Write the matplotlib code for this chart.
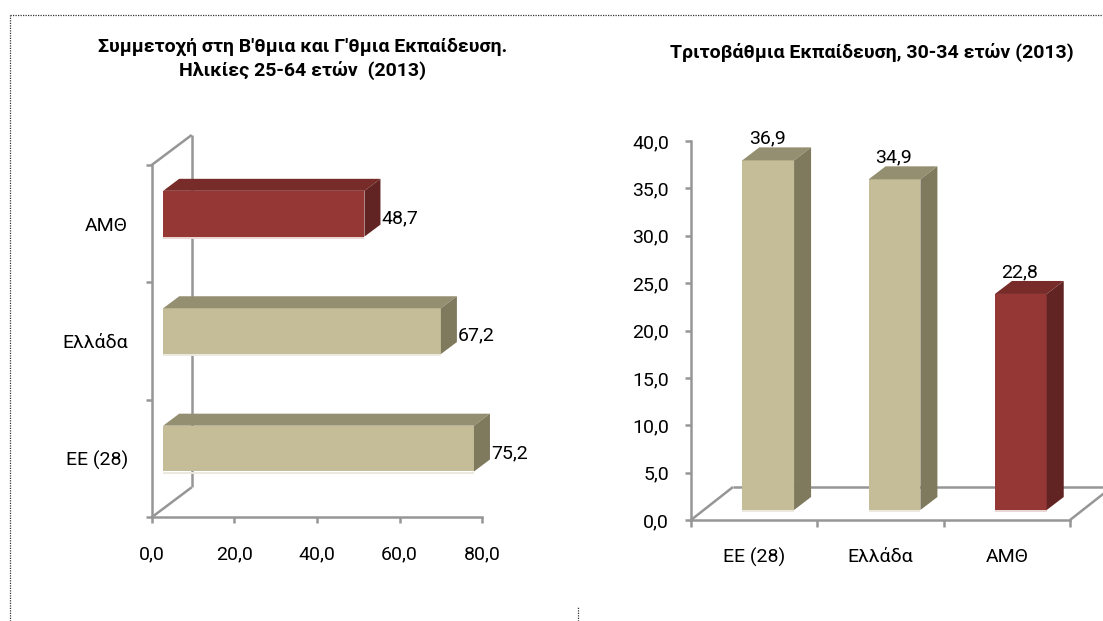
import matplotlib
matplotlib.use('Agg')
import matplotlib.pyplot as plt
from matplotlib.patches import Polygon
from matplotlib.lines import Line2D
from matplotlib.transforms import IdentityTransform, ScaledTranslation
import numpy as np

plt.rcParams['font.family'] = ['Roboto', 'DejaVu Sans']

# ---------------- data ----------------
left_title = "Συμμετοχή στη Β'θμια και Γ'θμια Εκπαίδευση.\nΗλικίες 25-64 ετών  (2013)"
left_categories = ['ΕΕ (28)', 'Ελλάδα', 'ΑΜΘ']
left_values = [75.2, 67.2, 48.7]
left_ticks = [0, 20, 40, 60, 80]

right_title = 'Τριτοβάθμια Εκπαίδευση, 30-34 ετών (2013)'
right_categories = ['ΕΕ (28)', 'Ελλάδα', 'ΑΜΘ']
right_values = [36.9, 34.9, 22.8]
right_ticks = [0, 5, 10, 15, 20, 25, 30, 35, 40]

# ---------------- style ----------------
BEIGE = dict(front='#C4BD97', top='#958F71', side='#7F7A5E', low='#ECEAE0')
RED = dict(front='#953735', top='#772C2A', side='#612422', low='#E9D6D5')
bar_styles = [BEIGE, BEIGE, RED]
GREY = '#969696'
LW = 1.8
FS = 14

W, H = 1103, 621
fig = plt.figure(figsize=(W / 100, H / 100), dpi=100)
fig.patch.set_facecolor('white')


def fmt(v):
    return f'{v:.1f}'.replace('.', ',')


def to_disp(ax, pts, trans=None):
    trans = ax.transData if trans is None else trans
    return trans.transform(np.asarray(pts, dtype=float))


def add_poly(ax, pts, color, z):
    ax.add_patch(Polygon(pts, closed=True, facecolor=color, edgecolor='none',
                         transform=IdentityTransform(), clip_on=False, zorder=z))


def add_line(ax, p, q, z=1, color=GREY, lw=LW):
    ax.add_line(Line2D([p[0], q[0]], [p[1], q[1]], color=color, lw=lw,
                       transform=IdentityTransform(), clip_on=False, zorder=z,
                       solid_capstyle='butt'))


def box3d(ax, x0, x1, y0, y1, off, depth, style):
    A, B, C, D = to_disp(ax, [(x0, y0), (x1, y0), (x1, y1), (x0, y1)]) + np.array(off)
    d = np.array(depth)
    add_poly(ax, [D, C, C + d, D + d], style['top'], 3)
    add_poly(ax, [B, C, C + d, B + d], style['side'], 3)
    add_line(ax, A - np.array([0, 1.2]), B - np.array([0, 1.2]), z=3,
             color=style['low'], lw=1.4)


def style_axis(ax):
    for s in ['top', 'right']:
        ax.spines[s].set_visible(False)
    for s in ['left', 'bottom']:
        ax.spines[s].set_color(GREY)
        ax.spines[s].set_linewidth(LW)
        ax.spines[s].set_zorder(2)
    ax.set_facecolor('none')
    ax.tick_params(which='both', color=GREY, width=LW, labelsize=FS,
                   labelcolor='black')


# ================= left panel (horizontal bars) =================
axL = fig.add_axes([151.7 / W, (H - 517.3) / H, (482.3 - 151.7) / W, (517.3 - 165) / H])
axL.set_xlim(0, 80)
axL.set_ylim(-0.5, 2.5)
style_axis(axL)
yL = np.arange(len(left_categories))
axL.set_xticks(left_ticks)
axL.set_xticklabels([fmt(t) for t in left_ticks])
axL.set_yticks(yL)
axL.set_yticklabels(left_categories)
axL.set_yticks(np.arange(-0.5, len(left_categories)), minor=True)
axL.tick_params(axis='x', which='major', length=4.3, pad=16)
axL.tick_params(axis='y', which='major', length=0, pad=17)
axL.tick_params(axis='y', which='minor', length=4.3)

wall = np.array([40, 30])
p00, p01 = to_disp(axL, [(0, 0), (0, 1)], axL.transAxes)
add_line(axL, p01, p01 + wall)
add_line(axL, p01 + wall, p00 + wall)
add_line(axL, p00 + wall, p00)

offL = (11.5, 10)
depL = (16, 12)
hL = 0.39
cols_L = [BEIGE, BEIGE, RED]
tr = axL.transData + ScaledTranslation(offL[0] / 100, offL[1] / 100, fig.dpi_scale_trans)
for i, v in enumerate(left_values):
    axL.barh(i, v, height=hL, color=cols_L[i]['front'], transform=tr, zorder=3, clip_on=False)
    box3d(axL, 0, v, i - hL / 2, i + hL / 2, offL, depL, cols_L[i])
    axL.annotate(fmt(v), xy=(v, i), xytext=(20.5, 4), textcoords='offset points',
                 ha='left', va='center', fontsize=FS, color='black', zorder=4,
                 annotation_clip=False)

fig.text(303 / W, 1 - 59 / H, left_title, ha='center', va='center',
         fontsize=14, fontweight='bold', linespacing=1.3)

# ================= right panel (vertical bars) =================
axR = fig.add_axes([691 / W, (H - 520) / H, (1070 - 691) / W, (520 - 141) / H])
axR.set_xlim(-0.5, 2.5)
axR.set_ylim(0, 40)
style_axis(axR)
xR = np.arange(len(right_categories))
axR.set_yticks(right_ticks)
axR.set_yticklabels([fmt(t) for t in right_ticks])
axR.set_xticks(xR)
axR.set_xticklabels(right_categories)
axR.set_xticks(np.arange(-0.5, len(right_categories)), minor=True)
axR.tick_params(axis='y', which='major', length=4.3, pad=11.5)
axR.tick_params(axis='x', which='major', length=0, pad=20)
axR.tick_params(axis='x', which='minor', length=5)

floor = np.array([42, 33])
q00, q10 = to_disp(axR, [(0, 0), (1, 0)], axR.transAxes)
add_line(axR, q00, q00 + floor)
add_line(axR, q00 + floor, q10 + floor)
add_line(axR, q10, q10 + floor)

offR = (14, 10)
depR = (17, 13)
wR = 0.41
trR = axR.transData + ScaledTranslation(offR[0] / 100, offR[1] / 100, fig.dpi_scale_trans)
for i, v in enumerate(right_values):
    axR.bar(i, v, width=wR, color=bar_styles[i]['front'], transform=trR, zorder=3, clip_on=False)
    box3d(axR, i - wR / 2, i + wR / 2, 0, v, offR, depR, bar_styles[i])
    axR.annotate(fmt(v), xy=(i, v), xytext=(9.4, 19.4), textcoords='offset points',
                 ha='center', va='baseline', fontsize=FS, color='black', zorder=4,
                 annotation_clip=False)

fig.text(871.5 / W, 1 - 52 / H, right_title, ha='center', va='center',
         fontsize=14, fontweight='bold')

# ---------------- dotted frame ----------------
fig.add_artist(Line2D([10 / W, 1], [1 - 15 / H, 1 - 15 / H], transform=fig.transFigure,
                      color='#333333', lw=0.9, linestyle=(0, (1, 1))))
fig.add_artist(Line2D([10 / W, 10 / W], [0, 1 - 15 / H], transform=fig.transFigure,
                      color='#333333', lw=0.9, linestyle=(0, (1, 1))))
fig.add_artist(Line2D([578 / W, 578 / W], [0, 14 / H], transform=fig.transFigure,
                      color='#333333', lw=0.9, linestyle=(0, (1, 1))))

fig.savefig('out.png', dpi=100, facecolor='white')
